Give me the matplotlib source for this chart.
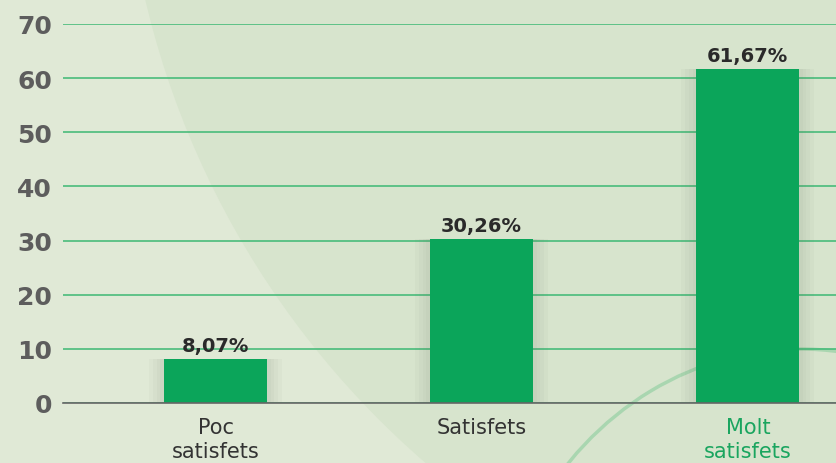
import matplotlib.pyplot as plt
from matplotlib.patches import Circle, Arc

categories = ["Poc\nsatisfets", "Satisfets", "Molt\nsatisfets"]
values = [8.07, 30.26, 61.67]
value_labels = ["8,07%", "30,26%", "61,67%"]
yticks = [0, 10, 20, 30, 40, 50, 60, 70]

bar_color = "#0ba55a"
grid_color = "#3db874"
bg_color = "#e0e9d6"

fig = plt.figure(figsize=(8.37, 4.64), dpi=100)
fig.patch.set_facecolor(bg_color)

# decorative background shapes (figure pixel coords)
bg = fig.add_axes([0, 0, 1, 1], zorder=0)
bg.set_xlim(0, 837)
bg.set_ylim(464, 0)
bg.axis("off")
bg.add_patch(Circle((1000, -200), 878, color="#d7e4cd", lw=0))
bg.add_patch(Arc((800, 690), 620, 680, theta1=180, theta2=300,
                 color="#a9d6b0", lw=2.5))

ax = fig.add_axes([63 / 837, 60 / 464, 774 / 837, 379 / 464], zorder=1)
ax.set_facecolor("none")
x = range(len(categories))

# soft shadows beside the bars
for w in [0.5, 0.47, 0.44, 0.415]:
    ax.bar(x, values, width=w, color="#5f6b5a", alpha=0.035,
           zorder=2, linewidth=0)

bars = ax.bar(x, values, width=0.387, color=bar_color, zorder=3)

ax.set_ylim(0, 70)
ax.set_xlim(-0.573, 2.335)
ax.set_yticks(yticks)
ax.yaxis.grid(True, color=grid_color, linewidth=1.1, zorder=1)
ax.set_axisbelow(True)
for s in ["top", "right", "left"]:
    ax.spines[s].set_visible(False)
ax.spines["bottom"].set_color("#666666")
ax.spines["bottom"].set_linewidth(1.2)
ax.spines["bottom"].set_zorder(4)

ax.tick_params(axis="y", length=0, pad=8, labelsize=18, labelcolor="#5d5d5d")
for t in ax.get_yticklabels():
    t.set_fontweight("bold")

ax.set_xticks(list(x))
ax.set_xticklabels(categories, fontsize=15, color="#333333", linespacing=1.25)
ax.tick_params(axis="x", length=0, pad=10)
ax.get_xticklabels()[2].set_color("#1aa55f")

for b, lab in zip(bars, value_labels):
    ax.text(b.get_x() + b.get_width() / 2, b.get_height() + 0.8, lab,
            ha="center", va="bottom", fontsize=14, fontweight="bold",
            color="#2a2a2a", zorder=5)

fig.savefig("out.png", dpi=100, facecolor=fig.get_facecolor())
